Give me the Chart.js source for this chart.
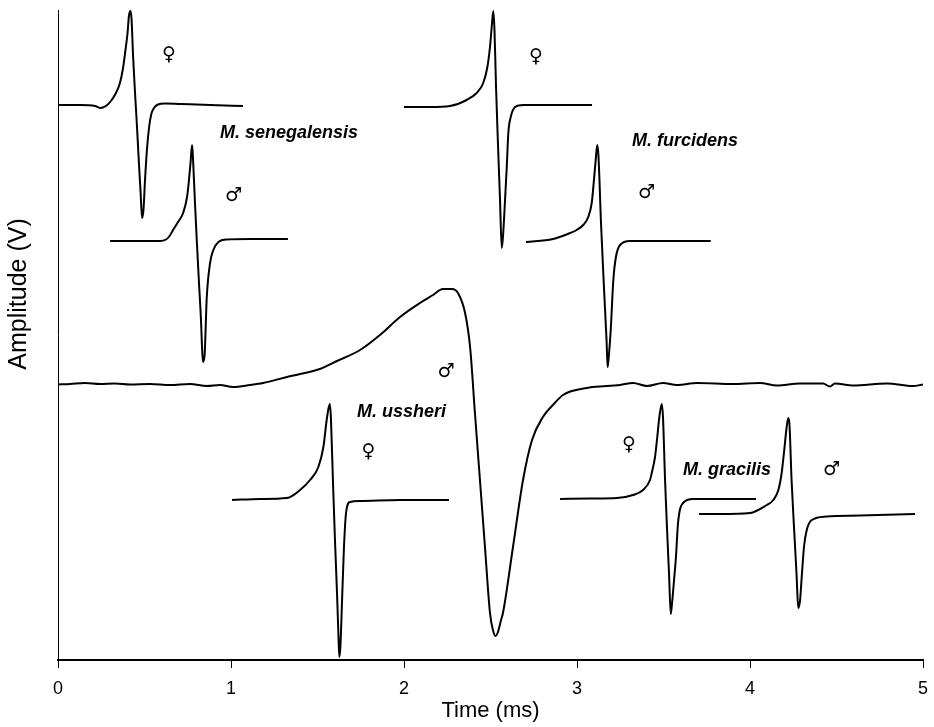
<!DOCTYPE html>
<html>
<head>
<meta charset="utf-8">
<title>EOD waveforms</title>
<script src="https://cdn.jsdelivr.net/npm/chart.js@4.4.1/dist/chart.umd.min.js"></script>
<style>
html, body { margin: 0; padding: 0; background: #fff; }
#wrap { width: 934px; height: 727px; }
</style>
</head>
<body>
<div id="wrap"><canvas id="eodChart"></canvas></div>
<script>
// time in ms, amplitude in arbitrary units (traces are offset vertically)
var xTicks = [0, 1, 2, 3, 4, 5];

// M. senegalensis female
var senFemX = [0, 0.127, 0.214, 0.243, 0.277, 0.306, 0.335, 0.358, 0.376, 0.390, 0.402, 0.410, 0.419, 0.425, 0.434, 0.445, 0.457, 0.468, 0.477, 0.486, 0.494, 0.503, 0.514, 0.526, 0.538, 0.555, 0.578, 0.618, 0.705, 0.879, 1.069];
var senFemY = [55.5, 55.5, 55.4, 55.2, 55.4, 55.9, 56.7, 57.7, 59.2, 61.0, 62.7, 64.4, 64.9, 64.1, 60.4, 56.8, 53.2, 49.6, 46.9, 44.2, 45.0, 48.0, 51.0, 53.2, 54.5, 55.2, 55.55, 55.65, 55.6, 55.5, 55.4];

// M. senegalensis male
var senMalX = [0.301, 0.532, 0.590, 0.624, 0.645, 0.665, 0.694, 0.723, 0.746, 0.757, 0.766, 0.775, 0.780, 0.792, 0.803, 0.815, 0.827, 0.832, 0.838, 0.847, 0.860, 0.879, 0.898, 0.927, 0.975, 1.110, 1.329];
var senMalY = [41.9, 41.9, 41.9, 42.05, 42.4, 43.0, 43.8, 44.7, 46.3, 48.0, 49.7, 51.5, 50.3, 45.6, 41.7, 37.7, 33.8, 31.5, 29.8, 30.4, 36.3, 39.7, 41.0, 41.8, 42.05, 42.1, 42.1];

// M. furcidens female
var furFemX = [2.000, 2.150, 2.266, 2.362, 2.420, 2.458, 2.482, 2.497, 2.507, 2.516, 2.523, 2.532, 2.543, 2.555, 2.565, 2.572, 2.584, 2.594, 2.603, 2.617, 2.642, 2.690, 2.902, 3.087];
var furFemY = [55.3, 55.3, 55.4, 56.0, 56.7, 57.7, 59.3, 61.3, 63.3, 64.9, 63.0, 57.3, 51.7, 46.0, 41.2, 42.3, 46.0, 49.3, 52.7, 54.3, 55.3, 55.5, 55.5, 55.5];

// M. furcidens male
var furMalX = [2.705, 2.861, 2.960, 2.998, 3.036, 3.065, 3.085, 3.098, 3.108, 3.117, 3.124, 3.139, 3.156, 3.171, 3.177, 3.185, 3.195, 3.210, 3.225, 3.249, 3.306, 3.773];
var furMalY = [41.8, 42.1, 42.7, 43.0, 43.5, 44.3, 45.7, 48.0, 50.0, 51.5, 50.4, 43.6, 37.2, 31.9, 29.3, 30.6, 33.0, 38.0, 40.3, 41.5, 41.9, 41.9];

// M. ussheri male
var ussMalX = [0, 0.069, 0.156, 0.243, 0.329, 0.416, 0.532, 0.647, 0.763, 0.861, 0.936, 1.012, 1.110, 1.185, 1.324, 1.399, 1.514, 1.613, 1.746, 1.861, 1.977, 2.092, 2.168, 2.225, 2.277, 2.312, 2.353, 2.382, 2.410, 2.439, 2.468, 2.497, 2.514, 2.529, 2.543, 2.561, 2.572, 2.630, 2.688, 2.740, 2.803, 2.861, 2.919, 3.058, 3.249, 3.324, 3.405, 3.497, 3.578, 3.694, 3.902, 4.058, 4.156, 4.289, 4.422, 4.462, 4.491, 4.595, 4.792, 4.942, 5.0];
var ussMalY = [27.55, 27.6, 27.7, 27.6, 27.65, 27.55, 27.6, 27.5, 27.6, 27.4, 27.5, 27.3, 27.5, 27.7, 28.3, 28.6, 29.1, 29.9, 31.0, 32.5, 34.3, 35.7, 36.5, 37.1, 37.1, 36.7, 34.7, 31.3, 24.7, 18.0, 11.3, 4.7, 3.0, 2.4, 2.8, 4.0, 4.7, 11.3, 18.0, 22.0, 24.3, 25.5, 26.5, 27.2, 27.5, 27.7, 27.4, 27.7, 27.5, 27.7, 27.6, 27.7, 27.45, 27.65, 27.65, 27.35, 27.65, 27.45, 27.65, 27.4, 27.55];

// M. ussheri female
var ussFemX = [1.006, 1.168, 1.324, 1.399, 1.457, 1.505, 1.534, 1.553, 1.564, 1.572, 1.578, 1.590, 1.601, 1.613, 1.621, 1.626, 1.632, 1.642, 1.653, 1.665, 1.688, 1.746, 1.977, 2.260];
var ussFemY = [16.0, 16.1, 16.2, 17.0, 18.0, 19.3, 21.3, 24.0, 25.2, 25.6, 24.0, 17.5, 12.0, 6.6, 2.5, 0.3, 1.2, 6.0, 11.3, 14.7, 15.8, 15.9, 16.0, 16.0];

// M. gracilis female
var graFemX = [2.902, 3.075, 3.231, 3.324, 3.382, 3.422, 3.432, 3.451, 3.464, 3.476, 3.490, 3.497, 3.509, 3.520, 3.532, 3.542, 3.549, 3.561, 3.572, 3.584, 3.613, 3.671, 4.035];
var graFemY = [16.1, 16.15, 16.2, 16.5, 17.0, 18.0, 18.7, 20.3, 22.3, 24.3, 25.6, 24.3, 18.0, 13.3, 8.6, 4.6, 5.6, 8.0, 10.3, 13.7, 15.7, 16.1, 16.1];

// M. gracilis male
var graMalX = [3.705, 3.827, 4.000, 4.097, 4.135, 4.164, 4.183, 4.198, 4.212, 4.221, 4.228, 4.240, 4.254, 4.269, 4.279, 4.289, 4.299, 4.312, 4.328, 4.357, 4.443, 4.636, 4.954];
var graMalY = [14.6, 14.6, 14.7, 15.5, 16.0, 17.0, 18.7, 21.0, 23.3, 24.2, 23.6, 18.1, 13.4, 8.6, 5.2, 5.9, 8.3, 11.3, 13.0, 14.0, 14.35, 14.45, 14.6];

// text notes (position in ms / amplitude units)
var speciesNames = ['M. senegalensis', 'M. furcidens', 'M. ussheri', 'M. gracilis'];
var speciesAtX = [0.936, 3.318, 1.728, 3.613];
var speciesAtY = [52.65, 51.9, 24.8, 18.95];

var sexSigns = ['\u2640', '\u2642', '\u2640', '\u2642', '\u2642', '\u2640', '\u2640', '\u2642'];
var sexAtX = [0.642, 1.014, 2.763, 3.402, 2.243, 1.795, 3.301, 4.471];
var sexAtY = [60.45, 46.35, 60.3, 46.7, 28.75, 20.8, 21.5, 19.0];

function toPoints(xs, ys) {
    return xs.map(function (x, i) { return { x: x, y: ys[i] }; });
}

function trace(xs, ys) {
    return {
        data: toPoints(xs, ys),
        borderColor: '#000',
        borderWidth: 2,
        pointRadius: 0,
        fill: false,
        cubicInterpolationMode: 'monotone'
    };
}

var notesPlugin = {
    id: 'notes',
    afterDatasetsDraw: function (chart) {
        var c = chart.ctx;
        var sx = chart.scales.x;
        var sy = chart.scales.y;
        c.save();
        c.fillStyle = '#000';
        c.textBaseline = 'middle';

        c.font = 'italic bold 18px "Liberation Sans", Arial, sans-serif';
        c.textAlign = 'left';
        speciesNames.forEach(function (name, i) {
            c.fillText(name, sx.getPixelForValue(speciesAtX[i]), sy.getPixelForValue(speciesAtY[i]));
        });

        c.font = '19px "DejaVu Sans", sans-serif';
        c.textAlign = 'center';
        sexSigns.forEach(function (s, i) {
            c.fillText(s, sx.getPixelForValue(sexAtX[i]), sy.getPixelForValue(sexAtY[i]));
        });

        // y axis title, sits a bit above the middle of the axis
        c.font = '25px "Liberation Sans", Arial, sans-serif';
        c.translate(19, chart.chartArea.top + 284);
        c.rotate(-Math.PI / 2);
        c.fillText('Amplitude (V)', 0, 0);
        c.restore();
    }
};

var ctx = document.getElementById('eodChart').getContext('2d');

var eodChart = new Chart(ctx, {
    type: 'line',
    data: {
        datasets: [
            trace(senFemX, senFemY),
            trace(senMalX, senMalY),
            trace(furFemX, furFemY),
            trace(furMalX, furMalY),
            trace(ussMalX, ussMalY),
            trace(ussFemX, ussFemY),
            trace(graFemX, graFemY),
            trace(graMalX, graMalY)
        ]
    },
    options: {
        responsive: true,
        maintainAspectRatio: false,
        animation: false,
        layout: { padding: { left: 0, right: 11, top: 10, bottom: 0 } },
        plugins: {
            legend: { display: false },
            tooltip: { enabled: false }
        },
        scales: {
            x: {
                type: 'linear',
                min: 0,
                max: 5,
                afterBuildTicks: function (scale) {
                    scale.ticks = xTicks.map(function (v) { return { value: v }; });
                },
                afterFit: function (scale) {
                    scale.height = 67;
                    scale.paddingLeft = 0;
                    scale.paddingRight = 0;
                },
                ticks: {
                    color: '#000',
                    padding: 10,
                    font: { family: '"Liberation Sans", Arial, sans-serif', size: 18 }
                },
                grid: {
                    display: true,
                    drawOnChartArea: false,
                    drawTicks: true,
                    tickLength: 8,
                    color: '#000',
                    lineWidth: 1
                },
                border: { display: true, color: '#000', width: 2 },
                title: {
                    display: true,
                    text: 'Time (ms)',
                    color: '#000',
                    padding: { top: 0, bottom: 3 },
                    font: { family: '"Liberation Sans", Arial, sans-serif', size: 22 }
                }
            },
            y: {
                type: 'linear',
                min: 0,
                max: 65,
                afterFit: function (scale) { scale.width = 58; },
                ticks: { display: false },
                grid: { display: false },
                border: { display: true, color: '#000', width: 1 }
            }
        }
    },
    plugins: [notesPlugin]
});
</script>
</body>
</html>
